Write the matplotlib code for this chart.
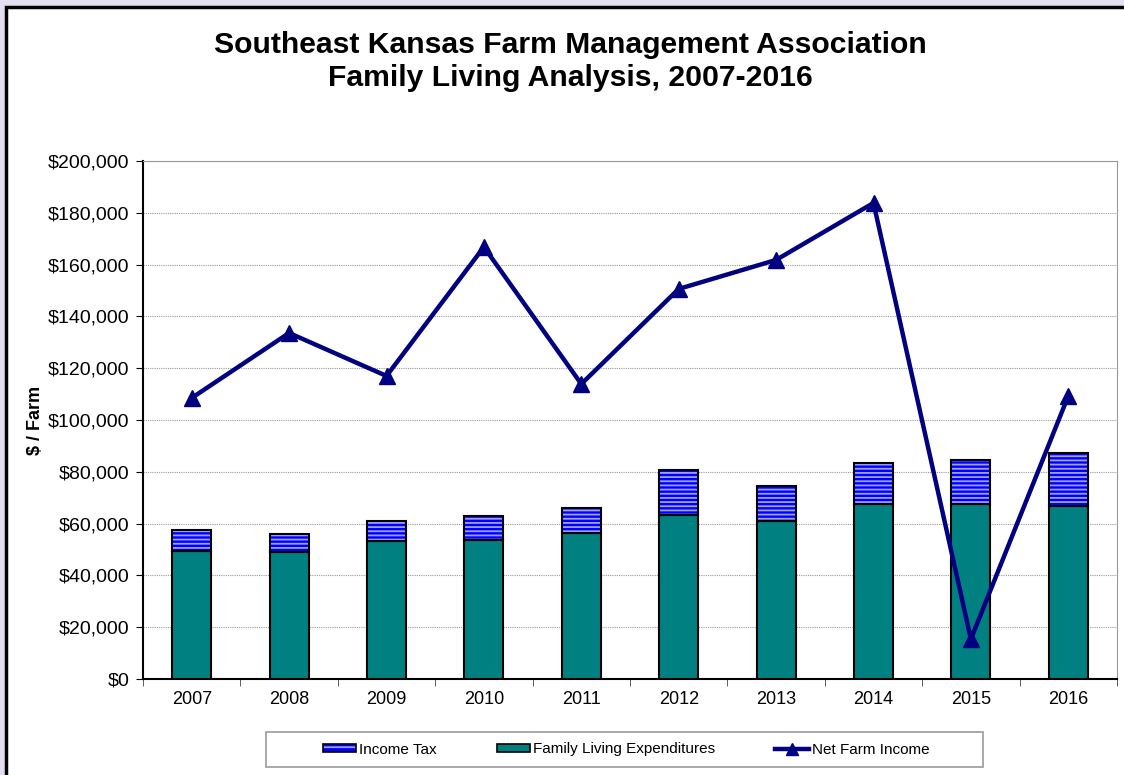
import numpy as np
import matplotlib
matplotlib.use("Agg")
import matplotlib.pyplot as plt
from matplotlib.patches import Rectangle, Patch
from matplotlib.lines import Line2D
from matplotlib.legend_handler import HandlerTuple
from matplotlib.ticker import FuncFormatter

years = ['2007', '2008', '2009', '2010', '2011', '2012', '2013', '2014', '2015', '2016']
family_living = [49400, 49000, 53300, 53700, 56400, 63300, 61000, 67600, 67600, 66800]
income_tax = [8100, 7000, 7700, 9300, 9600, 17400, 13500, 15800, 16800, 20500]
net_farm_income = [108500, 133600, 117000, 166800, 113900, 150600, 161800, 183800, 15400, 109300]

plt.rcParams['font.family'] = ['Liberation Sans', 'DejaVu Sans']
plt.rcParams['hatch.linewidth'] = 1.3

teal = '#008080'
blue = '#0000ff'
stripe = '#a0a0ff'
navy = '#000080'

fig = plt.figure(figsize=(11.24, 7.75), dpi=100)
fig.patch.set_facecolor('#e4def0')
W, H = 1124, 775
# white chart area with black frame
fig.patches.append(Rectangle((6 / W, -0.1), 1.2, 1 - 7 / H + 0.1, transform=fig.transFigure,
                             facecolor='white', edgecolor='black', linewidth=2.5, zorder=-10))
# legend box
fig.patches.append(Rectangle((266 / W, 1 - 767 / H), (983 - 266) / W, (767 - 732) / H,
                             transform=fig.transFigure, facecolor='white',
                             edgecolor='#999999', linewidth=1.2, zorder=-5))

ax = fig.add_axes([143 / W, 1 - 679 / H, (1117 - 143) / W, (679 - 161) / H])
x = np.arange(len(years))
w = 0.4

ax.bar(x, family_living, w, color=teal, edgecolor='black', linewidth=1.5, zorder=3)
# striped income tax: hatch first, then black outline
ax.bar(x, income_tax, w, bottom=family_living, color=blue, edgecolor=stripe,
       hatch='----', linewidth=0, zorder=3)
ax.bar(x, income_tax, w, bottom=family_living, fill=False, edgecolor='black',
       linewidth=1.5, zorder=3)
ax.plot(x, net_farm_income, color=navy, linewidth=3.2, marker='^', markersize=11,
        zorder=4, clip_on=False)

ax.set_xlim(-0.5, len(years) - 0.5)
ax.set_ylim(0, 200000)
ax.set_yticks(np.arange(0, 200001, 20000))
ax.yaxis.set_major_formatter(FuncFormatter(lambda v, p: '${:,.0f}'.format(v)))
ax.set_xticks(x)
ax.set_xticklabels(years)
ax.set_xticks(np.arange(-0.5, len(years), 1), minor=True)
ax.tick_params(axis='x', which='major', length=0, pad=9, labelsize=13)
ax.tick_params(axis='x', which='minor', length=5, direction='out', color='#444444')
ax.tick_params(axis='y', length=5, direction='out', pad=5, labelsize=14)
ax.grid(axis='y', color='#999999', linestyle=(0, (1, 1)), linewidth=0.8, zorder=0)
for s in ['top', 'right']:
    ax.spines[s].set_color('#999999')
for s in ['left', 'bottom']:
    ax.spines[s].set_color('black')
    ax.spines[s].set_linewidth(1.5)

ax.set_ylabel('$ / Farm', fontsize=13, fontweight='bold')
ax.yaxis.set_label_coords((44 - 143) / 974, 0.5)

fig.text(570 / W, 1 - 45 / H, 'Southeast Kansas Farm Management Association',
         ha='center', va='center', fontsize=21.7, fontweight='bold')
fig.text(570 / W, 1 - 78 / H, 'Family Living Analysis, 2007-2016',
         ha='center', va='center', fontsize=21.7, fontweight='bold')

tax_handle = (Patch(facecolor=blue, edgecolor=stripe, hatch='---', linewidth=0),
              Patch(fill=False, edgecolor='black', linewidth=1.2))
handles = [
    tax_handle,
    Patch(facecolor=teal, edgecolor='black', linewidth=1.2),
    Line2D([0], [0], color=navy, linewidth=3.2, marker='^', markersize=9),
]
labels = ['Income Tax', 'Family Living Expenditures', 'Net Farm Income']
fig.legend(handles, labels, loc='center', bbox_to_anchor=(626 / W, 1 - 749.5 / H),
           ncol=3, frameon=False, fontsize=11, handlelength=2.2, handleheight=0.5,
           handletextpad=0.2, columnspacing=3.9,
           handler_map={tuple: HandlerTuple(ndivide=1, pad=0)})

fig.savefig('out.png', dpi=100, facecolor=fig.get_facecolor())
